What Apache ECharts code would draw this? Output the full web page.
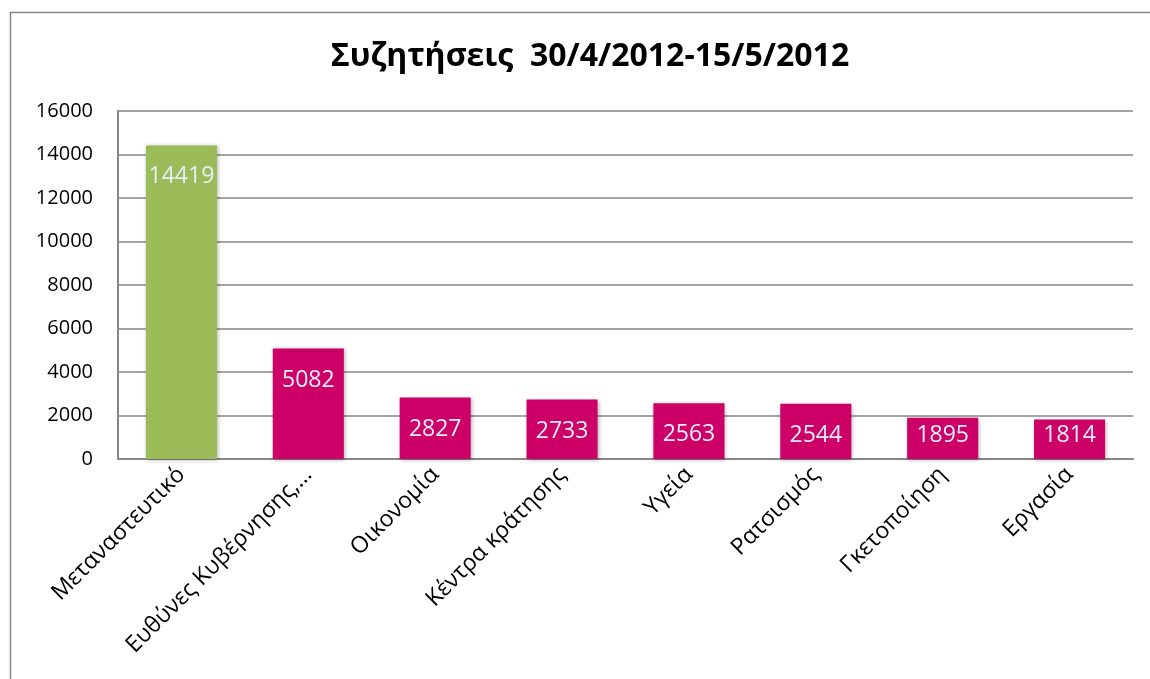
<!DOCTYPE html>
<html>
<head>
<meta charset="utf-8">
<script src="https://cdn.jsdelivr.net/npm/echarts@6/dist/echarts.min.js"></script>
<style>html,body{margin:0;padding:0;background:#fff;}#c{width:1150px;height:679px;}</style>
</head>
<body>
<div id="c"></div>
<script>
const titleText = 'Συζητήσεις  30/4/2012-15/5/2012';
const categories = ['Μεταναστευτικό', 'Ευθύνες Κυβέρνησης,…', 'Οικονομία', 'Κέντρα κράτησης', 'Υγεία', 'Ρατσισμός', 'Γκετοποίηση', 'Εργασία'];
const values = [14419, 5082, 2827, 2733, 2563, 2544, 1895, 1814];
const barColors = ['#9BBB59', '#CC0066', '#CC0066', '#CC0066', '#CC0066', '#CC0066', '#CC0066', '#CC0066'];
const yTicks = { min: 0, max: 16000, interval: 2000 };

const font = '"Open Sans", "Noto Sans", sans-serif';
const chart = echarts.init(document.getElementById('c'), null, { renderer: 'canvas' });

function buildData(distances) {
  return values.map((v, i) => ({
    value: v,
    itemStyle: { color: barColors[i] },
    label: distances ? { distance: distances[i] } : undefined
  }));
}

chart.setOption({
  animation: false,
  backgroundColor: '#fff',
  title: {
    text: titleText, left: 585, top: 36, textAlign: 'center',
    textStyle: { fontFamily: font, fontSize: 32, fontWeight: 'bold', color: '#000' }
  },
  graphic: [{
    type: 'rect', shape: { x: 10.5, y: 12.5, width: 1160, height: 700 },
    style: { fill: 'none', stroke: '#868686', lineWidth: 1.5 }, silent: true, z: -1
  }],
  grid: { left: 118, right: 17, top: 111, bottom: 220, containLabel: false },
  xAxis: {
    type: 'category', data: categories,
    axisLine: { lineStyle: { color: '#868686', width: 2 } },
    axisTick: { show: false },
    axisLabel: { rotate: 45, fontFamily: font, fontSize: 23, color: '#000', margin: 12, interval: 0 }
  },
  yAxis: {
    type: 'value', min: yTicks.min, max: yTicks.max, interval: yTicks.interval,
    axisLine: { show: true, lineStyle: { color: '#868686', width: 2 } },
    axisTick: { show: false },
    splitLine: { lineStyle: { color: '#868686', width: 1.5 } },
    axisLabel: { fontFamily: font, fontSize: 20, color: '#000', margin: 25, formatter: v => String(v) }
  },
  series: [{
    type: 'bar', barWidth: '56%',
    data: buildData(null),
    itemStyle: { shadowBlur: 4, shadowColor: 'rgba(0,0,0,0.3)', shadowOffsetX: 1, shadowOffsetY: 1 },
    label: { show: true, position: 'insideTop', distance: 20, fontFamily: font, fontSize: 23, color: '#E8EEF8' }
  }]
});

// Excel-style "inside end" labels: keep label inside short bars
const base = chart.convertToPixel({ yAxisIndex: 0 }, 0);
const distances = values.map(v => {
  const top = chart.convertToPixel({ yAxisIndex: 0 }, v);
  const height = base - top;
  return Math.max(0, Math.min(20, height - 35));
});
chart.setOption({ series: [{ data: buildData(distances) }] });
</script>
</body>
</html>
